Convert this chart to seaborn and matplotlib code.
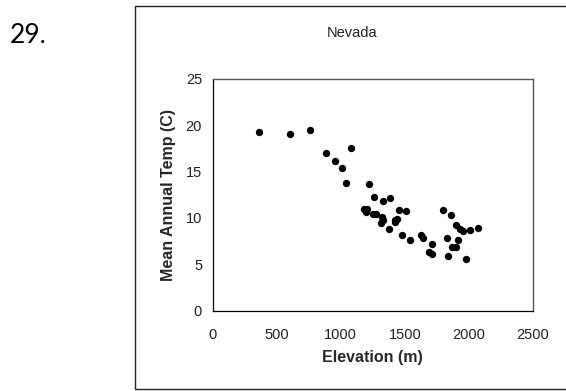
import matplotlib
matplotlib.use("Agg")
import matplotlib.pyplot as plt
import matplotlib.patches as patches
import seaborn as sns
import pandas as pd

elevation = [365, 602, 760, 883, 955, 1008, 1078, 1041,
             1218, 1262, 1332, 1387, 1184, 1203, 1197, 1254, 1275,
             1320, 1332, 1312, 1424, 1437, 1426, 1457, 1509,
             1377, 1481, 1543, 1629, 1640, 1712, 1691, 1710,
             1800, 1863, 1897, 1931, 1952, 2011, 2074, 1827, 1915,
             1871, 1899, 1835, 1975]
mean_temp = [19.3, 19.1, 19.5, 17.0, 16.1, 15.35, 17.6, 13.8,
             13.7, 12.3, 11.85, 12.2, 11.0, 10.95, 10.6, 10.4, 10.4,
             10.15, 9.8, 9.5, 9.8, 9.9, 9.6, 10.9, 10.75,
             8.8, 8.15, 7.65, 8.2, 7.8, 7.2, 6.35, 6.15,
             10.9, 10.35, 9.25, 8.8, 8.55, 8.65, 8.95, 7.8, 7.65,
             6.85, 6.85, 5.9, 5.6]
x_ticks = [0, 500, 1000, 1500, 2000, 2500]
y_ticks = [0, 5, 10, 15, 20, 25]

df = pd.DataFrame({"Elevation (m)": elevation, "Mean Annual Temp (C)": mean_temp})

sns.set_style("white")
plt.rcParams["font.family"] = ["Liberation Sans", "DejaVu Sans"]

W, H = 566, 391
fig = plt.figure(figsize=(W / 100, H / 100), dpi=100)
ax = fig.add_axes([212.5 / W, 1 - 310.5 / H, (533 - 212.5) / W, (310.5 - 79) / H])

sns.scatterplot(data=df, x="Elevation (m)", y="Mean Annual Temp (C)", ax=ax,
                color="black", s=28, edgecolor="black", linewidth=0, legend=False)

ax.set_xlim(0, 2500)
ax.set_ylim(0, 25)
ax.set_xticks(x_ticks)
ax.set_yticks(y_ticks)
ax.set_xticklabels([str(v) for v in x_ticks])
ax.set_yticklabels([str(v) for v in y_ticks])
ax.tick_params(axis="both", direction="out", length=3.5, width=0.8, colors="black",
               labelsize=10.5, labelcolor="#222222")
ax.tick_params(axis="x", pad=9)
ax.tick_params(axis="y", pad=4)
ax.grid(False)

for side in ["left", "bottom"]:
    ax.spines[side].set_color("black")
    ax.spines[side].set_linewidth(0.9)
for side in ["top", "right"]:
    ax.spines[side].set_visible(True)
    ax.spines[side].set_color("#555555")
    ax.spines[side].set_linewidth(1.0)

ax.set_xlabel("Elevation (m)", fontsize=11.5, fontweight="bold", labelpad=6)
ax.set_ylabel("Mean Annual Temp (C)", fontsize=11.5, fontweight="bold", labelpad=7)

fig.text(352 / W, 1 - 33 / H, "Nevada", ha="center", va="center", fontsize=10.5, color="#222222")
fig.text(10 / W, 1 - 43 / H, "29.", ha="left", va="baseline", fontsize=19,
         family=["Lato", "DejaVu Sans"], color="black")

frame = patches.Rectangle((135 / W, 1 - 389 / H), 1.05 - 135 / W, (389 - 6) / H,
                          transform=fig.transFigure, fill=False, edgecolor="#222222",
                          linewidth=1.0, clip_on=False)
fig.add_artist(frame)

fig.savefig("out.png", dpi=100)
